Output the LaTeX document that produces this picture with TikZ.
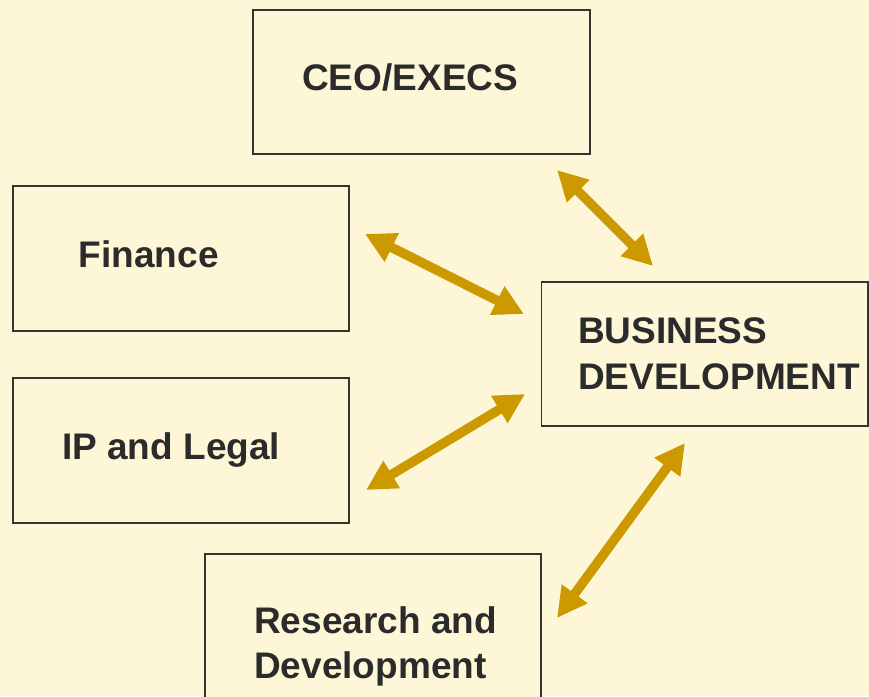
\documentclass[tikz,border=0pt]{standalone}
\usepackage{fontspec}
\setmainfont{Liberation Sans}
\usetikzlibrary{arrows.meta}
\definecolor{bgc}{HTML}{FDF7D8}
\definecolor{boxline}{HTML}{333333}
\definecolor{txt}{HTML}{2B2B2B}
\definecolor{gold}{HTML}{CC9900}
\tikzset{
  box/.style={draw=boxline, line width=1.8pt, fill=bgc, rectangle, anchor=north west, inner sep=0pt, outer sep=0pt},
  lbl/.style={anchor=base west, inner sep=0pt, text=txt, font=\fontsize{37}{46}\selectfont\bfseries, align=left},
  link/.style={draw=gold, line width=9.5pt, {Triangle[length=30pt,width=30pt]}-{Triangle[length=30pt,width=30pt]}}
}
\begin{document}
\begin{tikzpicture}[x=1pt,y=-1pt]
\fill[bgc] (0,0) rectangle (869,696);
\useasboundingbox (0,0) rectangle (869,696);
\clip (0,0) rectangle (869,696);
% boxes
\node[box, minimum width=337pt, minimum height=144pt] (ceo) at (253,10) {};
\node[box, minimum width=336pt, minimum height=145pt] (fin) at (13,186) {};
\node[box, minimum width=336pt, minimum height=145pt] (ip) at (13,378) {};
\node[box, minimum width=326.5pt, minimum height=144pt] (bd) at (541.5,282) {};
\node[box, minimum width=336pt, minimum height=186pt] (rd) at (205,554) {};
% labels
\node[lbl] (tceo) at (302,90.7) {CEO/EXECS};
\node[lbl] (tfin) at (78.6,267) {Finance};
\node[lbl] (tip) at (62,459) {IP and Legal};
\node[lbl] (tbd1) at (578,343) {BUSINESS};
\node[lbl] (tbd2) at (578,389) {DEVELOPMENT};
\node[lbl] (trd1) at (254,633) {Research and};
\node[lbl] (trd2) at (254,678) {Development};
% connector ends
\coordinate (a1) at (557,170);
\coordinate (b1) at (653,266);
\coordinate (a2) at (365,234);
\coordinate (b2) at (524,314);
\coordinate (a3) at (366,490);
\coordinate (b3) at (525,394);
\coordinate (a4) at (557,618);
\coordinate (b4) at (685,443);
\draw[link] (a1) -- (b1);
\draw[link] (a2) -- (b2);
\draw[link] (a3) -- (b3);
\draw[link] (a4) -- (b4);
\end{tikzpicture}
\end{document}
